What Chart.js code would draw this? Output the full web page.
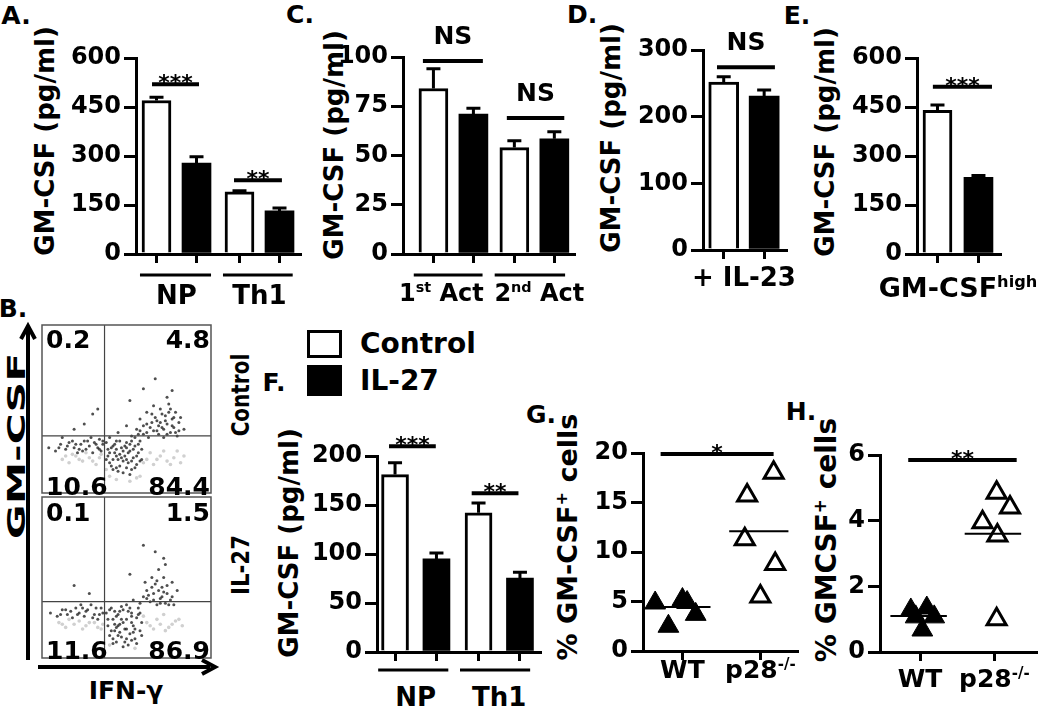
<!DOCTYPE html>
<html>
<head>
<meta charset="utf-8">
<script src="https://cdn.jsdelivr.net/npm/chart.js@4/dist/chart.umd.min.js"></script>
<style>
body { margin: 0; background: #fff; }
#fig { position: relative; width: 1050px; height: 713px; overflow: hidden; font-family: "DejaVu Sans", sans-serif; font-weight: bold; color: #000; }
#fig canvas { position: absolute; }
.t { position: absolute; white-space: nowrap; transform: translate(-50%, -50%); font-size: 25px; line-height: 1; }
.r { transform: translate(-50%, -50%) rotate(-90deg); font-size: 26px; }
sup { font-size: 0.6em; line-height: 0; vertical-align: 0.6em; }
.box { position: absolute; }
</style>
</head>
<body>
<div id="fig">
  <svg width="1050" height="713" style="position:absolute;left:0;top:0">
    <line x1="28" y1="660" x2="28" y2="330" stroke="#000" stroke-width="4"/>
    <polyline points="21,339 28,326 35,339" fill="none" stroke="#000" stroke-width="4"/>
    <line x1="38" y1="667" x2="210" y2="667" stroke="#000" stroke-width="4"/>
    <polyline points="202,660 215,667 202,674" fill="none" stroke="#000" stroke-width="4"/>
  </svg>

  <div class="t" style="left:16px;top:15px">A.</div>
  <div class="t" style="left:13px;top:308px">B.</div>
  <div class="t" style="left:300px;top:14px">C.</div>
  <div class="t" style="left:582px;top:14px">D.</div>
  <div class="t" style="left:797px;top:15px">E.</div>
  <div class="t" style="left:274px;top:382px">F.</div>
  <div class="t" style="left:541px;top:414px">G.</div>
  <div class="t" style="left:801px;top:411px">H.</div>

  <div class="t r" style="left:45px;top:141px">GM-CSF (pg/ml)</div>
  <div class="t r" style="left:334px;top:145px">GM-CSF (pg/ml)</div>
  <div class="t r" style="left:611px;top:138px">GM-CSF (pg/ml)</div>
  <div class="t r" style="left:825px;top:142px">GM-CSF (pg/ml)</div>
  <div class="t r" style="left:289px;top:543px">GM-CSF (pg/ml)</div>
  <div class="t r" style="left:567px;top:537px;font-size:27px">% GM-CSF<sup>+</sup> cells</div>
  <div class="t r" style="left:827px;top:540px;font-size:28px">% GMCSF<sup>+</sup> cells</div>

  <div class="t" style="left:16px;top:446px;transform:translate(-50%,-50%) rotate(-90deg) scaleX(1.7)">GM-CSF</div>
  <div class="t" style="left:126px;top:690px">IFN-γ</div>
  <div class="t" style="left:240px;top:395px;transform:translate(-50%,-50%) rotate(-90deg) scaleX(0.8)">Control</div>
  <div class="t" style="left:240px;top:565px;transform:translate(-50%,-50%) rotate(-90deg) scaleX(0.85)">IL-27</div>

  <div class="box" style="left:307px;top:330px;width:29px;height:22px;border:3px solid #000;background:#fff"></div>
  <div class="box" style="left:307px;top:365px;width:35px;height:31px;background:#000"></div>
  <div class="t" style="left:360px;top:344px;transform:translateY(-50%);font-size:28px">Control</div>
  <div class="t" style="left:360px;top:381px;transform:translateY(-50%);font-size:28px">IL-27</div>
</div>

<script>
// A: naive (NP) and Th1 cells
const aGroups = ['NP', 'Th1'];
const aControl = [470, 190];
const aControlSem = [10, 4];
const aIL27 = [278, 132];
const aIL27Sem = [20, 9];

// C: first and second activation
const cGroups = ['1<sup>st</sup> Act', '2<sup>nd</sup> Act'];
const cControl = [84, 54];
const cControlSem = [10, 3.5];
const cIL27 = [71, 58.5];
const cIL27Sem = [3, 3.5];

// D
const dGroups = ['+ IL-23'];
const dControl = [252];
const dControlSem = [8];
const dIL27 = [231];
const dIL27Sem = [9];

// E
const eGroups = ['GM-CSF<sup>high</sup>'];
const eControl = [440];
const eControlSem = [16];
const eIL27 = [235];
const eIL27Sem = [5];

// F
const fGroups = ['NP', 'Th1'];
const fControl = [181, 142];
const fControlSem = [12, 10];
const fIL27 = [95, 75.5];
const fIL27Sem = [6, 6];

// G and H: individual mice
const mouseGroups = ['WT', 'p28<sup>-/-</sup>'];
const gWT = [4.85, 2.5, 5.2, 4.9, 3.7];
const gWTx = [0.65, 0.82, 1.0, 1.06, 1.17];
const gKO = [18.0, 15.7, 11.3, 8.8, 5.5];
const gKOx = [2.17, 1.83, 1.80, 2.19, 2.0];
const gMedians = [4.45, 12.1];

const hWT = [1.28, 1.34, 1.07, 0.67, 1.07];
const hWTx = [0.875, 1.09, 1.19, 1.03, 0.94];
const hKO = [4.85, 4.4, 3.95, 3.55, 1.0];
const hKOx = [2.03, 2.21, 1.84, 2.04, 2.03];
const hMedians = [1.1, 3.6];

// B: flow cytometry, quadrant percentages [UL, UR, LL, LR]
const ctrlQuad = ['0.2', '4.8', '10.6', '84.4'];
const il27Quad = ['0.1', '1.5', '11.6', '86.9'];
const ctrlGate = [37, 34];
const il27Gate = [37, 35];
const ctrlDark = [[4,27],[8,25],[11,29],[14,26],[16,30],[19,27],[21,24],[23,29],[25,31],[26,26],[28,28],[30,24],[31,30],[33,27],[34,32],[35,25],[36,29],[24,25],[18,31],[29,33],
  [20,29],[22,26],[27,31],[32,29],[34,26],[36,31],[15,28],[10,27],
  [38,30],[39,22],[40,18],[41,27],[42,14],[43,24],[44,31],[45,20],[46,16],[47,27],[48,12],[49,22],[50,30],[51,18],[52,25],[53,14],[54,21],[55,28],[56,17],[57,24],[58,31],[59,20],[40,33],[44,26],[48,19],[52,29],[46,23],[42,20],[50,15],[55,33],
  [39,26],[41,16],[43,29],[45,13],[47,21],[49,28],[51,24],[53,19],[55,15],[57,29],[59,26],[38,20],[40,24],[44,15],[46,31],[48,25],[50,20],[52,11],[54,26],[56,22],[58,19],[42,28],[44,22],[50,27],[53,31],
  [45,36],[50,40],[53,34],[56,38],[58,44],[60,35],[62,41],[63,33],[65,47],[66,37],[68,43],[69,35],[70,50],[71,39],[72,33],[73,46],[74,41],[75,53],[76,36],[77,44],[78,39],[79,48],[80,34],[81,42],[66,52],[62,48],[58,37],[74,57],
  [64,39],[67,45],[70,42],[72,38],[75,48],[77,40],[79,36],[68,37],[73,43],[76,50],[71,47],[65,42],[62,36],[78,45],[81,37],[69,40],[60,40],[57,35],[74,35],[82,45],
  [33,50],[30,47],[67,68],[60,62],[25,41],[19,38],[52,55],[77,61],[84,38],[12,33]];
const ctrlLight = [[12,20],[16,18],[20,22],[24,19],[28,21],[32,17],[35,23],[62,20],[66,17],[70,22],[74,19],[78,21],[82,18],[40,10],[56,9],[64,24],[72,25],[26,24],[18,23],[80,25],
  [14,22],[22,20],[30,19],[34,21],[60,18],[68,20],[76,17],[84,22],[38,14],[44,8],[52,7],[58,10]];
const il27Dark = [[5,28],[9,26],[12,30],[15,27],[18,25],[20,31],[22,28],[25,26],[27,30],[29,33],[31,27],[33,24],[35,31],[36,28],[23,33],[17,29],[30,25],
  [14,30],[21,27],[26,29],[32,31],[34,27],[11,27],[24,31],
  [38,28],[39,20],[40,14],[41,31],[42,24],[43,17],[44,10],[45,27],[46,21],[47,13],[48,30],[49,18],[50,24],[51,8],[52,15],[53,28],[54,20],[55,12],[56,25],[57,31],[58,17],[59,22],[44,19],[48,7],[50,33],[53,11],[46,29],[42,12],
  [39,24],[41,17],[43,29],[45,14],[47,24],[49,10],[51,29],[53,22],[55,18],[57,27],[59,14],[40,30],[42,9],[44,26],[46,16],[48,22],[50,12],[52,31],[54,16],[56,9],[58,28],[45,20],[50,18],[53,26],[47,32],[43,21],
  [54,36],[58,34],[60,38],[62,42],[64,35],[66,40],[67,46],[68,33],[70,37],[71,44],[72,50],[73,34],[74,40],[76,36],[77,47],[78,33],[69,55],[65,50],[72,62],[61,47],
  [63,39],[66,36],[69,42],[71,38],[74,45],[75,33],[68,48],[72,41],[65,44],[77,38],[70,34],[62,37],
  [60,70],[67,66],[73,58],[19,45],[52,52],[80,42],[28,40]];
const il27Light = [[10,22],[14,19],[19,21],[24,18],[28,22],[33,19],[62,22],[66,18],[70,21],[75,19],[79,23],[83,20],[36,21],[60,26],[72,27],[16,24],
  [12,21],[22,23],[26,20],[31,22],[35,18],[64,20],[68,24],[73,17],[77,21],[81,24],[40,8],[55,6]];

Chart.defaults.font.family = '"DejaVu Sans", sans-serif';
Chart.defaults.font.weight = 'bold';
Chart.defaults.color = '#000';
Chart.defaults.animation = false;

const fig = document.getElementById('fig');

function label(html, x, y, style) {
  const d = document.createElement('div');
  d.className = 't';
  d.innerHTML = html;
  d.style.left = x + 'px';
  d.style.top = y + 'px';
  if (style) d.style.cssText += style;
  fig.appendChild(d);
}

function makeCanvas(plot, m) {
  const c = document.createElement('canvas');
  c.width = plot[2] - plot[0] + m.l + m.r;
  c.height = plot[3] - plot[1] + m.t + m.b;
  c.style.left = (plot[0] - m.l) + 'px';
  c.style.top = (plot[1] - m.t) + 'px';
  fig.appendChild(c);
  return c;
}

function yAxis(max, step, m) {
  return {
    min: 0, max: max,
    ticks: { stepSize: step, font: { size: 24 }, padding: 3 },
    grid: { drawOnChartArea: false, tickLength: 12, lineWidth: 3, color: '#000' },
    border: { width: 3, color: '#000' },
    afterFit: s => { s.width = m.l; }
  };
}

function xAxis(min, max, tickVals, m) {
  return {
    type: 'linear', min: min, max: max, offset: false,
    afterBuildTicks: s => { s.ticks = tickVals.map(v => ({ value: v })); },
    ticks: { callback: () => '' },
    grid: { drawOnChartArea: false, offset: false, tickLength: 9, lineWidth: 3, color: '#000' },
    border: { width: 3, color: '#000' },
    afterFit: s => { s.height = m.b; }
  };
}

const errorBars = {
  id: 'errorBars',
  afterDatasetsDraw(chart) {
    const ctx = chart.ctx, y = chart.scales.y;
    chart.data.datasets.forEach((ds, i) => {
      if (!ds.err) return;
      chart.getDatasetMeta(i).data.forEach((bar, j) => {
        const top = y.getPixelForValue(ds.data[j].y + ds.err[j]);
        ctx.save();
        ctx.strokeStyle = '#000';
        ctx.lineWidth = 3;
        ctx.beginPath();
        ctx.moveTo(bar.x, bar.y);
        ctx.lineTo(bar.x, top);
        ctx.moveTo(bar.x - 7, top);
        ctx.lineTo(bar.x + 7, top);
        ctx.stroke();
        ctx.restore();
      });
    });
  }
};

// significance bars and group underlines
function marks(sig, under, dy) {
  return {
    id: 'marks',
    afterDatasetsDraw(chart) {
      const { ctx, chartArea } = chart;
      const x = chart.scales.x, y = chart.scales.y;
      ctx.save();
      ctx.strokeStyle = '#000';
      ctx.fillStyle = '#000';
      ctx.textAlign = 'center';
      ctx.textBaseline = 'alphabetic';
      sig.forEach(s => {
        const a = x.getPixelForValue(s.x1), b = x.getPixelForValue(s.x2), py = y.getPixelForValue(s.y);
        ctx.lineWidth = 4;
        ctx.beginPath();
        ctx.moveTo(a, py);
        ctx.lineTo(b, py);
        ctx.stroke();
        if (s.t === 'NS') {
          ctx.font = 'bold 25px "DejaVu Sans"';
          ctx.fillText(s.t, (a + b) / 2, py - 17);
        } else {
          ctx.font = 'bold 22px "DejaVu Sans"';
          ctx.fillText(s.t, (a + b) / 2, py + 6);
        }
      });
      (under || []).forEach(u => {
        const py = chartArea.bottom + dy;
        ctx.lineWidth = 3;
        ctx.beginPath();
        ctx.moveTo(x.getPixelForValue(u[0]), py);
        ctx.lineTo(x.getPixelForValue(u[1]), py);
        ctx.stroke();
      });
      ctx.restore();
    }
  };
}

function barPanel(p) {
  const m = p.m;
  const cv = makeCanvas(p.plot, m);
  const pos = (vals, d) => vals.map((v, i) => ({ x: i + d, y: v }));
  const barTicks = [];
  p.control.forEach((v, i) => barTicks.push(i - p.off, i + p.off));
  const chart = new Chart(cv, {
    type: 'bar',
    data: {
      datasets: [
        { label: 'Control', data: pos(p.control, -p.off), err: p.controlSem, backgroundColor: '#fff',
          borderColor: '#000', borderWidth: 3, barThickness: p.bw, grouped: false },
        { label: 'IL-27', data: pos(p.il27, p.off), err: p.il27Sem, backgroundColor: '#000',
          borderColor: '#000', borderWidth: 0, barThickness: p.bw, grouped: false }
      ]
    },
    options: {
      responsive: false,
      devicePixelRatio: 1,
      layout: { padding: { top: m.t, right: m.r, left: 0, bottom: 0 } },
      plugins: { legend: { display: false }, tooltip: { enabled: false } },
      scales: { x: xAxis(p.xmin, p.xmax, barTicks, m), y: yAxis(p.ymax, p.step, m) }
    },
    plugins: [errorBars, marks(p.sig, p.under, p.dy)]
  });
  p.groups.forEach((g, i) => {
    const cx = p.plot[0] - m.l + chart.scales.x.getPixelForValue(i) + (p.labelDx ? p.labelDx[i] : 0);
    label(g, cx, p.labelY, p.labelStyle || 'font-size:26px');
  });
}

function dotPanel(p) {
  const m = p.m;
  const cv = makeCanvas(p.plot, m);
  const pts = (ys, xs) => ys.map((v, i) => ({ x: xs[i], y: v }));
  const med = (v, c) => [{ x: c - 0.4, y: v }, { x: c + 0.36, y: v }];
  const chart = new Chart(cv, {
    type: 'scatter',
    data: {
      datasets: [
        { type: 'line', data: med(p.medians[0], 1), borderColor: '#000', borderWidth: 2, pointRadius: 0 },
        { type: 'line', data: med(p.medians[1], 2), borderColor: '#000', borderWidth: 2, pointRadius: 0 },
        { data: pts(p.wt, p.wtX), pointStyle: 'triangle', pointRadius: 12, backgroundColor: '#000',
          borderColor: '#000', borderWidth: 1, clip: false },
        { data: pts(p.ko, p.koX), pointStyle: 'triangle', pointRadius: 11, backgroundColor: '#fff',
          borderColor: '#000', borderWidth: 3, clip: false }
      ]
    },
    options: {
      responsive: false,
      devicePixelRatio: 1,
      layout: { padding: { top: m.t, right: m.r, left: 0, bottom: 0 } },
      plugins: { legend: { display: false }, tooltip: { enabled: false } },
      scales: { x: xAxis(p.xmin, p.xmax, [1, 2], m), y: yAxis(p.ymax, p.step, m) }
    },
    plugins: [marks(p.sig, [], 0)]
  });
  mouseGroups.forEach((g, i) => label(g, p.plot[0] - m.l + chart.scales.x.getPixelForValue(i + 1), p.labelY));
}

function flowPanel(plot, dark, light, gate, quad, numY) {
  const m = { l: 2, t: 2, r: 2, b: 2 };
  const cv = makeCanvas(plot, m);
  const toXY = a => a.map(d => ({ x: d[0], y: d[1] }));
  new Chart(cv, {
    type: 'scatter',
    data: {
      datasets: [
        { data: toXY(dark), pointRadius: 1.5, borderWidth: 0, backgroundColor: 'rgba(35,35,35,0.8)' },
        { data: toXY(light), pointRadius: 1.8, borderWidth: 0, backgroundColor: '#d0d0d0' }
      ]
    },
    options: {
      responsive: false,
      devicePixelRatio: 1,
      layout: { padding: 2 },
      plugins: { legend: { display: false }, tooltip: { enabled: false } },
      scales: {
        x: { display: false, min: 0, max: 100 },
        y: { display: false, min: 0, max: 100 }
      }
    },
    plugins: [{
      id: 'gate',
      afterDatasetsDraw(chart) {
        const { ctx, chartArea: a } = chart;
        const gx = chart.scales.x.getPixelForValue(gate[0]);
        const gy = chart.scales.y.getPixelForValue(gate[1]);
        ctx.save();
        ctx.strokeStyle = '#444';
        ctx.lineWidth = 1.2;
        ctx.beginPath();
        ctx.moveTo(gx, a.top); ctx.lineTo(gx, a.bottom);
        ctx.moveTo(a.left, gy); ctx.lineTo(a.right, gy);
        ctx.stroke();
        ctx.strokeStyle = '#555';
        ctx.lineWidth = 1.5;
        ctx.strokeRect(a.left, a.top, a.right - a.left, a.bottom - a.top);
        ctx.restore();
      }
    }]
  });
  label(quad[0], plot[0] + 6, numY[0], 'transform:translateY(-50%)');
  label(quad[1], plot[2] - 3, numY[0], 'transform:translate(-100%,-50%)');
  label(quad[2], plot[0] + 6, numY[1], 'transform:translateY(-50%)');
  label(quad[3], plot[2] - 3, numY[1], 'transform:translate(-100%,-50%)');
}

barPanel({
  plot: [136, 58, 300, 254], m: { l: 80, t: 22, r: 8, b: 30 },
  control: aControl, controlSem: aControlSem, il27: aIL27, il27Sem: aIL27Sem, groups: aGroups,
  ymax: 600, step: 150, xmin: -0.488, xmax: 1.488, off: 0.241, bw: 29,
  sig: [{ x1: -0.295, x2: 0.271, y: 520, t: '***' }, { x1: 0.693, x2: 1.27, y: 226, t: '**' }],
  under: [[-0.44, 0.416], [0.56, 1.40]], dy: 21, labelY: 295
});

barPanel({
  plot: [403, 57, 574, 254], m: { l: 80, t: 45, r: 8, b: 30 },
  control: cControl, controlSem: cControlSem, il27: cIL27, il27Sem: cIL27Sem, groups: cGroups,
  ymax: 100, step: 25, xmin: -0.623, xmax: 1.49, off: 0.247, bw: 29,
  sig: [{ x1: -0.377, x2: 0.364, y: 98, t: 'NS' }, { x1: 0.66, x2: 1.37, y: 69, t: 'NS' }],
  under: [[-0.49, 0.36], [0.51, 1.38]], dy: 21, labelY: 293,
  labelDx: [-12, 5], labelStyle: 'font-size:24px'
});

barPanel({
  plot: [703, 50, 786, 250], m: { l: 80, t: 22, r: 8, b: 20 },
  control: dControl, controlSem: dControlSem, il27: dIL27, il27Sem: dIL27Sem, groups: dGroups,
  ymax: 300, step: 100, xmin: -0.506, xmax: 0.52, off: 0.25, bw: 30,
  sig: [{ x1: -0.333, x2: 0.383, y: 274, t: 'NS' }],
  under: [], dy: 0, labelY: 277
});

barPanel({
  plot: [917, 58, 1000, 254], m: { l: 80, t: 22, r: 8, b: 20 },
  control: eControl, controlSem: eControlSem, il27: eIL27, il27Sem: eIL27Sem, groups: eGroups,
  ymax: 600, step: 150, xmin: -0.506, xmax: 0.519, off: 0.253, bw: 29,
  sig: [{ x1: -0.31, x2: 0.42, y: 512, t: '***' }],
  under: [], dy: 0, labelY: 287, labelStyle: 'font-size:27px'
});

barPanel({
  plot: [377, 456, 540, 652], m: { l: 80, t: 22, r: 8, b: 28 },
  control: fControl, controlSem: fControlSem, il27: fIL27, il27Sem: fIL27Sem, groups: fGroups,
  ymax: 200, step: 50, xmin: -0.464, xmax: 1.488, off: 0.248, bw: 27,
  sig: [{ x1: -0.32, x2: 0.24, y: 210, t: '***' }, { x1: 0.67, x2: 1.23, y: 162, t: '**' }],
  under: [[-0.45, 0.39], [0.53, 1.37]], dy: 18, labelY: 697
});

dotPanel({
  plot: [643, 453, 803, 651], m: { l: 60, t: 22, r: 8, b: 20 },
  wt: gWT, wtX: gWTx, ko: gKO, koX: gKOx, medians: gMedians,
  ymax: 20, step: 5, xmin: 0.494, xmax: 2.47,
  sig: [{ x1: 0.72, x2: 2.17, y: 19.9, t: '*' }], labelY: 669
});

dotPanel({
  plot: [880, 455, 1048, 652], m: { l: 45, t: 22, r: 2, b: 20 },
  wt: hWT, wtX: hWTx, ko: hKO, koX: hKOx, medians: hMedians,
  ymax: 6, step: 2, xmin: 0.46, xmax: 2.56,
  sig: [{ x1: 0.84, x2: 2.3, y: 5.85, t: '**' }], labelY: 678
});

flowPanel([40, 323, 213, 495], ctrlDark, ctrlLight, ctrlGate, ctrlQuad, [339, 486]);
flowPanel([40, 495, 213, 660], il27Dark, il27Light, il27Gate, il27Quad, [512, 650]);
</script>
</body>
</html>
